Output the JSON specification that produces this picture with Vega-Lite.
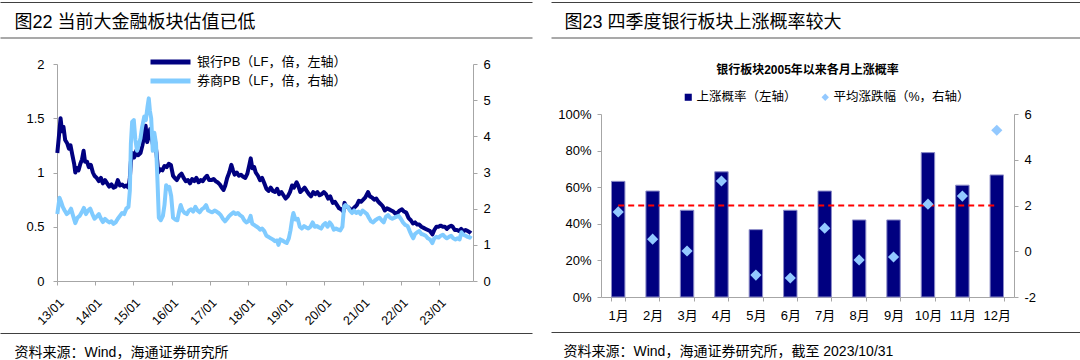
{
  "$schema": "https://vega.github.io/schema/vega-lite/v6.json",
  "padding": {"left": 14, "right": 0, "top": 2, "bottom": 0},
  "background": "white",
  "config": {
    "font": "Liberation Sans, Noto Sans CJK SC",
    "view": {"stroke": null},
    "axis": {"domainColor": "#A6A6A6", "tickColor": "#A6A6A6", "labelColor": "#000000", "labelFontSize": 13, "grid": false, "tickSize": 4, "labelFont": "Liberation Sans, Noto Sans CJK SC", "titleFont": "Liberation Sans, Noto Sans CJK SC", "titleColor": "#000000", "titleFontWeight": "normal"},
    "legend": {"labelFont": "Liberation Sans, Noto Sans CJK SC", "labelColor": "#000000", "titleFont": "Liberation Sans, Noto Sans CJK SC", "titleColor": "#000000"},
    "title": {"font": "Liberation Sans, Noto Sans CJK SC", "color": "#000000"}
  },
  "datasets": {
    "bank": [
      {"d":"2013-01-04","v":1.18},{"d":"2013-01-18","v":1.32},{"d":"2013-02-04","v":1.50},{"d":"2013-02-18","v":1.38},{"d":"2013-03-04","v":1.42},{"d":"2013-03-20","v":1.30},{"d":"2013-04-08","v":1.27},{"d":"2013-04-25","v":1.22},{"d":"2013-05-10","v":1.25},{"d":"2013-05-28","v":1.16},{"d":"2013-06-14","v":1.08},{"d":"2013-06-25","v":1.00},{"d":"2013-07-10","v":1.04},{"d":"2013-07-26","v":1.02},{"d":"2013-08-12","v":1.08},{"d":"2013-08-28","v":1.12},{"d":"2013-09-12","v":1.20},{"d":"2013-09-26","v":1.10},{"d":"2013-10-15","v":1.10},{"d":"2013-11-01","v":1.05},{"d":"2013-11-20","v":1.07},{"d":"2013-12-10","v":1.00},{"d":"2013-12-25","v":0.97},
      {"d":"2014-01-15","v":0.95},{"d":"2014-02-05","v":0.92},{"d":"2014-02-25","v":0.95},{"d":"2014-03-15","v":0.90},{"d":"2014-04-05","v":0.93},{"d":"2014-04-25","v":0.90},{"d":"2014-05-15","v":0.87},{"d":"2014-06-05","v":0.89},{"d":"2014-06-25","v":0.86},{"d":"2014-07-15","v":0.87},{"d":"2014-08-05","v":0.93},{"d":"2014-08-25","v":0.88},{"d":"2014-09-15","v":0.89},{"d":"2014-10-05","v":0.87},{"d":"2014-10-25","v":0.88},{"d":"2014-11-15","v":0.86},{"d":"2014-11-28","v":0.95},{"d":"2014-12-08","v":1.10},{"d":"2014-12-22","v":1.18},
      {"d":"2015-01-10","v":1.14},{"d":"2015-01-28","v":1.20},{"d":"2015-02-15","v":1.16},{"d":"2015-03-10","v":1.18},{"d":"2015-03-28","v":1.25},{"d":"2015-04-15","v":1.35},{"d":"2015-04-28","v":1.43},{"d":"2015-05-12","v":1.28},{"d":"2015-05-28","v":1.33},{"d":"2015-06-10","v":1.40},{"d":"2015-06-25","v":1.32},{"d":"2015-07-08","v":1.25},{"d":"2015-07-25","v":1.30},{"d":"2015-08-10","v":1.18},{"d":"2015-08-26","v":1.00},{"d":"2015-09-15","v":1.03},{"d":"2015-10-05","v":1.02},{"d":"2015-10-25","v":1.06},{"d":"2015-11-15","v":1.05},{"d":"2015-12-05","v":1.08},{"d":"2015-12-25","v":1.07},
      {"d":"2016-01-15","v":0.97},{"d":"2016-01-30","v":0.95},{"d":"2016-02-20","v":0.93},{"d":"2016-03-15","v":0.97},{"d":"2016-04-05","v":0.99},{"d":"2016-04-25","v":0.95},{"d":"2016-05-15","v":0.92},{"d":"2016-06-05","v":0.93},{"d":"2016-06-25","v":0.90},{"d":"2016-07-15","v":0.94},{"d":"2016-08-05","v":0.92},{"d":"2016-08-25","v":0.95},{"d":"2016-09-15","v":0.91},{"d":"2016-10-05","v":0.93},{"d":"2016-10-25","v":0.92},{"d":"2016-11-15","v":0.95},{"d":"2016-12-05","v":0.97},{"d":"2016-12-25","v":0.93},
      {"d":"2017-01-15","v":0.93},{"d":"2017-02-05","v":0.94},{"d":"2017-02-25","v":0.92},{"d":"2017-03-15","v":0.91},{"d":"2017-04-05","v":0.89},{"d":"2017-04-25","v":0.86},{"d":"2017-05-12","v":0.84},{"d":"2017-05-28","v":0.88},{"d":"2017-06-15","v":0.95},{"d":"2017-07-05","v":1.00},{"d":"2017-07-25","v":1.07},{"d":"2017-08-10","v":1.02},{"d":"2017-08-25","v":0.98},{"d":"2017-09-15","v":1.00},{"d":"2017-10-05","v":0.97},{"d":"2017-10-25","v":0.98},{"d":"2017-11-15","v":0.96},{"d":"2017-12-05","v":0.95},{"d":"2017-12-25","v":0.99},
      {"d":"2018-01-15","v":1.08},{"d":"2018-01-26","v":1.13},{"d":"2018-02-10","v":1.04},{"d":"2018-02-28","v":1.05},{"d":"2018-03-15","v":1.00},{"d":"2018-04-05","v":0.97},{"d":"2018-04-25","v":0.93},{"d":"2018-05-15","v":0.95},{"d":"2018-06-05","v":0.90},{"d":"2018-06-25","v":0.85},{"d":"2018-07-15","v":0.83},{"d":"2018-08-05","v":0.86},{"d":"2018-08-25","v":0.83},{"d":"2018-09-15","v":0.82},{"d":"2018-10-05","v":0.85},{"d":"2018-10-25","v":0.80},{"d":"2018-11-15","v":0.82},{"d":"2018-12-05","v":0.79},{"d":"2018-12-25","v":0.76},
      {"d":"2019-01-15","v":0.78},{"d":"2019-02-05","v":0.82},{"d":"2019-02-25","v":0.88},{"d":"2019-03-15","v":0.86},{"d":"2019-04-10","v":0.91},{"d":"2019-04-25","v":0.88},{"d":"2019-05-15","v":0.82},{"d":"2019-06-05","v":0.84},{"d":"2019-06-25","v":0.86},{"d":"2019-07-15","v":0.83},{"d":"2019-08-05","v":0.80},{"d":"2019-08-25","v":0.78},{"d":"2019-09-15","v":0.82},{"d":"2019-10-05","v":0.80},{"d":"2019-10-25","v":0.82},{"d":"2019-11-15","v":0.79},{"d":"2019-12-05","v":0.80},{"d":"2019-12-25","v":0.82},
      {"d":"2020-01-15","v":0.80},{"d":"2020-02-05","v":0.76},{"d":"2020-02-25","v":0.78},{"d":"2020-03-20","v":0.72},{"d":"2020-04-10","v":0.73},{"d":"2020-04-30","v":0.70},{"d":"2020-05-20","v":0.67},{"d":"2020-06-10","v":0.66},{"d":"2020-06-30","v":0.64},{"d":"2020-07-10","v":0.72},{"d":"2020-07-25","v":0.69},{"d":"2020-08-15","v":0.68},{"d":"2020-09-05","v":0.66},{"d":"2020-09-25","v":0.66},{"d":"2020-10-15","v":0.68},{"d":"2020-11-05","v":0.70},{"d":"2020-11-25","v":0.74},{"d":"2020-12-15","v":0.73},
      {"d":"2021-01-05","v":0.75},{"d":"2021-01-25","v":0.77},{"d":"2021-02-20","v":0.82},{"d":"2021-03-10","v":0.78},{"d":"2021-03-30","v":0.77},{"d":"2021-04-20","v":0.75},{"d":"2021-05-10","v":0.76},{"d":"2021-05-30","v":0.73},{"d":"2021-06-20","v":0.71},{"d":"2021-07-10","v":0.69},{"d":"2021-07-30","v":0.65},{"d":"2021-08-20","v":0.67},{"d":"2021-09-10","v":0.66},{"d":"2021-09-30","v":0.65},{"d":"2021-10-20","v":0.64},{"d":"2021-11-10","v":0.62},{"d":"2021-11-30","v":0.63},{"d":"2021-12-20","v":0.65},
      {"d":"2022-01-10","v":0.66},{"d":"2022-01-30","v":0.64},{"d":"2022-02-20","v":0.63},{"d":"2022-03-15","v":0.58},{"d":"2022-04-05","v":0.56},{"d":"2022-04-25","v":0.53},{"d":"2022-05-15","v":0.54},{"d":"2022-06-05","v":0.52},{"d":"2022-06-25","v":0.52},{"d":"2022-07-15","v":0.50},{"d":"2022-08-05","v":0.49},{"d":"2022-08-25","v":0.48},{"d":"2022-09-15","v":0.47},{"d":"2022-10-05","v":0.46},{"d":"2022-10-28","v":0.43},{"d":"2022-11-15","v":0.47},{"d":"2022-12-05","v":0.50},{"d":"2022-12-25","v":0.50},
      {"d":"2023-01-15","v":0.51},{"d":"2023-02-05","v":0.50},{"d":"2023-02-25","v":0.50},{"d":"2023-03-15","v":0.48},{"d":"2023-04-05","v":0.50},{"d":"2023-04-25","v":0.51},{"d":"2023-05-10","v":0.50},{"d":"2023-05-30","v":0.47},{"d":"2023-06-20","v":0.47},{"d":"2023-07-10","v":0.46},{"d":"2023-07-30","v":0.48},{"d":"2023-08-20","v":0.46},{"d":"2023-09-10","v":0.47},{"d":"2023-09-30","v":0.46},{"d":"2023-10-20","v":0.45},{"d":"2023-10-31","v":0.44}
    ],
    "sec": [
      {"d":"2013-01-04","v":1.85},{"d":"2013-01-25","v":2.30},{"d":"2013-02-08","v":2.20},{"d":"2013-02-25","v":2.05},{"d":"2013-03-15","v":1.95},{"d":"2013-04-05","v":1.85},{"d":"2013-04-25","v":1.90},{"d":"2013-05-15","v":2.00},{"d":"2013-05-30","v":1.85},{"d":"2013-06-25","v":1.60},{"d":"2013-07-15","v":1.75},{"d":"2013-08-05","v":1.80},{"d":"2013-08-25","v":1.90},{"d":"2013-09-15","v":2.02},{"d":"2013-10-05","v":1.85},{"d":"2013-10-25","v":1.95},{"d":"2013-11-15","v":2.00},{"d":"2013-12-05","v":1.85},{"d":"2013-12-25","v":1.72},
      {"d":"2014-01-15","v":1.78},{"d":"2014-02-05","v":1.85},{"d":"2014-02-25","v":1.72},{"d":"2014-03-15","v":1.63},{"d":"2014-04-05","v":1.72},{"d":"2014-04-25","v":1.66},{"d":"2014-05-15","v":1.62},{"d":"2014-06-05","v":1.65},{"d":"2014-06-25","v":1.58},{"d":"2014-07-15","v":1.62},{"d":"2014-08-05","v":1.72},{"d":"2014-08-25","v":1.80},{"d":"2014-09-15","v":1.88},{"d":"2014-10-05","v":1.85},{"d":"2014-10-25","v":2.00},{"d":"2014-11-15","v":2.05},{"d":"2014-11-28","v":2.50},{"d":"2014-12-08","v":3.80},{"d":"2014-12-20","v":4.40},
      {"d":"2015-01-05","v":4.45},{"d":"2015-01-20","v":3.90},{"d":"2015-02-05","v":3.60},{"d":"2015-02-20","v":3.75},{"d":"2015-03-10","v":3.95},{"d":"2015-03-25","v":4.25},{"d":"2015-04-15","v":4.55},{"d":"2015-04-30","v":4.45},{"d":"2015-05-15","v":4.80},{"d":"2015-05-28","v":5.05},{"d":"2015-06-08","v":4.70},{"d":"2015-06-20","v":4.50},{"d":"2015-07-05","v":3.60},{"d":"2015-07-20","v":4.10},{"d":"2015-08-05","v":3.80},{"d":"2015-08-20","v":2.70},{"d":"2015-09-01","v":1.75},{"d":"2015-09-20","v":1.68},{"d":"2015-10-10","v":1.80},{"d":"2015-10-25","v":2.10},{"d":"2015-11-10","v":2.65},{"d":"2015-11-25","v":2.55},{"d":"2015-12-10","v":2.60},{"d":"2015-12-28","v":2.35},
      {"d":"2016-01-15","v":1.75},{"d":"2016-02-05","v":1.70},{"d":"2016-02-25","v":1.68},{"d":"2016-03-15","v":1.95},{"d":"2016-03-28","v":2.10},{"d":"2016-04-15","v":1.95},{"d":"2016-05-05","v":1.88},{"d":"2016-05-25","v":1.85},{"d":"2016-06-15","v":1.95},{"d":"2016-07-05","v":1.98},{"d":"2016-07-25","v":1.92},{"d":"2016-08-15","v":2.05},{"d":"2016-09-05","v":1.95},{"d":"2016-09-25","v":1.90},{"d":"2016-10-15","v":1.98},{"d":"2016-11-05","v":2.02},{"d":"2016-11-25","v":2.10},{"d":"2016-12-15","v":1.95},
      {"d":"2017-01-05","v":1.92},{"d":"2017-01-25","v":1.90},{"d":"2017-02-15","v":1.95},{"d":"2017-03-05","v":1.92},{"d":"2017-03-25","v":1.88},{"d":"2017-04-15","v":1.82},{"d":"2017-05-05","v":1.72},{"d":"2017-05-25","v":1.65},{"d":"2017-06-15","v":1.72},{"d":"2017-07-05","v":1.80},{"d":"2017-07-25","v":1.85},{"d":"2017-08-15","v":1.90},{"d":"2017-09-05","v":1.85},{"d":"2017-09-25","v":1.88},{"d":"2017-10-15","v":1.82},{"d":"2017-11-05","v":1.78},{"d":"2017-11-25","v":1.68},{"d":"2017-12-15","v":1.62},
      {"d":"2018-01-05","v":1.65},{"d":"2018-01-25","v":1.80},{"d":"2018-02-10","v":1.58},{"d":"2018-02-28","v":1.55},{"d":"2018-03-15","v":1.52},{"d":"2018-04-05","v":1.48},{"d":"2018-04-25","v":1.42},{"d":"2018-05-15","v":1.45},{"d":"2018-06-05","v":1.38},{"d":"2018-06-25","v":1.25},{"d":"2018-07-15","v":1.22},{"d":"2018-08-05","v":1.18},{"d":"2018-08-25","v":1.15},{"d":"2018-09-15","v":1.10},{"d":"2018-10-05","v":1.12},{"d":"2018-10-18","v":1.00},{"d":"2018-11-05","v":1.15},{"d":"2018-11-25","v":1.12},{"d":"2018-12-15","v":1.08},
      {"d":"2019-01-05","v":1.05},{"d":"2019-01-25","v":1.18},{"d":"2019-02-10","v":1.40},{"d":"2019-02-28","v":1.75},{"d":"2019-03-10","v":1.88},{"d":"2019-03-30","v":1.70},{"d":"2019-04-20","v":1.72},{"d":"2019-05-10","v":1.50},{"d":"2019-05-30","v":1.45},{"d":"2019-06-20","v":1.52},{"d":"2019-07-10","v":1.48},{"d":"2019-07-30","v":1.45},{"d":"2019-08-20","v":1.50},{"d":"2019-09-10","v":1.62},{"d":"2019-09-30","v":1.50},{"d":"2019-10-20","v":1.52},{"d":"2019-11-10","v":1.48},{"d":"2019-11-30","v":1.45},{"d":"2019-12-20","v":1.55},
      {"d":"2020-01-10","v":1.60},{"d":"2020-01-30","v":1.50},{"d":"2020-02-20","v":1.62},{"d":"2020-03-10","v":1.55},{"d":"2020-03-30","v":1.42},{"d":"2020-04-20","v":1.45},{"d":"2020-05-10","v":1.42},{"d":"2020-05-30","v":1.40},{"d":"2020-06-20","v":1.50},{"d":"2020-07-06","v":2.05},{"d":"2020-07-20","v":2.10},{"d":"2020-08-10","v":2.05},{"d":"2020-08-30","v":1.95},{"d":"2020-09-20","v":1.88},{"d":"2020-10-10","v":1.95},{"d":"2020-10-30","v":1.88},{"d":"2020-11-20","v":1.92},{"d":"2020-12-10","v":1.85},{"d":"2020-12-30","v":1.95},
      {"d":"2021-01-20","v":1.90},{"d":"2021-02-10","v":1.85},{"d":"2021-02-28","v":1.75},{"d":"2021-03-20","v":1.65},{"d":"2021-04-10","v":1.62},{"d":"2021-04-30","v":1.68},{"d":"2021-05-20","v":1.72},{"d":"2021-06-10","v":1.75},{"d":"2021-06-30","v":1.68},{"d":"2021-07-20","v":1.62},{"d":"2021-08-10","v":1.78},{"d":"2021-08-30","v":1.82},{"d":"2021-09-20","v":1.75},{"d":"2021-10-10","v":1.72},{"d":"2021-10-30","v":1.75},{"d":"2021-11-20","v":1.78},{"d":"2021-12-10","v":1.80},{"d":"2021-12-30","v":1.72},
      {"d":"2022-01-20","v":1.62},{"d":"2022-02-10","v":1.55},{"d":"2022-03-05","v":1.52},{"d":"2022-03-25","v":1.38},{"d":"2022-04-15","v":1.25},{"d":"2022-04-28","v":1.18},{"d":"2022-05-15","v":1.30},{"d":"2022-06-05","v":1.35},{"d":"2022-06-25","v":1.38},{"d":"2022-07-15","v":1.30},{"d":"2022-08-05","v":1.28},{"d":"2022-08-25","v":1.25},{"d":"2022-09-15","v":1.18},{"d":"2022-10-05","v":1.15},{"d":"2022-10-28","v":1.05},{"d":"2022-11-15","v":1.18},{"d":"2022-12-05","v":1.22},{"d":"2022-12-25","v":1.20},
      {"d":"2023-01-15","v":1.25},{"d":"2023-02-05","v":1.28},{"d":"2023-02-25","v":1.22},{"d":"2023-03-15","v":1.18},{"d":"2023-04-05","v":1.22},{"d":"2023-04-25","v":1.25},{"d":"2023-05-15","v":1.18},{"d":"2023-06-05","v":1.15},{"d":"2023-06-25","v":1.18},{"d":"2023-07-15","v":1.15},{"d":"2023-08-01","v":1.35},{"d":"2023-08-20","v":1.28},{"d":"2023-09-10","v":1.25},{"d":"2023-09-30","v":1.22},{"d":"2023-10-20","v":1.20},{"d":"2023-10-31","v":1.25}
    ],
    "months": [
      {"m":"1月","p":0.632,"r":1.72},{"m":"2月","p":0.579,"r":0.53},{"m":"3月","p":0.474,"r":0.01},{"m":"4月","p":0.684,"r":3.07},{"m":"5月","p":0.368,"r":-1.04},{"m":"6月","p":0.474,"r":-1.17},{"m":"7月","p":0.579,"r":1.01},{"m":"8月","p":0.421,"r":-0.38},{"m":"9月","p":0.421,"r":-0.25},{"m":"10月","p":0.789,"r":2.06},{"m":"11月","p":0.611,"r":2.41},{"m":"12月","p":0.667,"r":5.29}
    ]
  },
  "resolve": {"scale": {"color": "independent", "fill": "independent"}, "legend": {"color": "independent", "fill": "independent"}},
  "hconcat": [
    {
      "spacing": 6,
      "resolve": {"scale": {"color": "independent"}, "legend": {"color": "independent"}},
      "vconcat": [
        {
          "width": 416, "height": 44,
          "data": {"values": []},
          "layer": [
            {"mark": "point", "encoding": {
              "x": {"field": "p", "type": "quantitative", "scale": {"domain": [0, 1], "range": [-57, 475]}, "axis": {"orient": "top", "domainColor": "#404040", "domainWidth": 1, "ticks": false, "labels": false, "grid": false,
                "title": "图22 当前大金融板块估值已低", "titleX": -43, "titleY": 25.5, "titleAlign": "left", "titleBaseline": "alphabetic", "titleFontSize": 18}},
              "y": {"field": "q", "type": "quantitative", "scale": {"domain": [0, 1]}, "axis": null}}},
            {"mark": "point", "encoding": {
              "x": {"field": "p", "type": "quantitative", "axis": {"orient": "bottom", "offset": -8.5, "domainColor": "#8C8C8C", "domainWidth": 1.5, "ticks": false, "labels": false, "grid": false, "title": null}},
              "y": {"field": "q", "type": "quantitative", "axis": null}}}
          ],
          "resolve": {"axis": {"x": "independent"}}
        },
        {
          "width": 416, "height": 217,
          "layer": [
            {
              "data": {"name": "bank"},
              "mark": {"type": "line", "strokeWidth": 4, "strokeJoin": "round"},
              "encoding": {
                "x": {"field": "d", "type": "temporal", "scale": {"domain": [{"year": 2013, "month": 1, "date": 1}, {"year": 2023, "month": 11, "date": 20}], "nice": false},
                  "axis": {"title": null, "format": "%y/%m", "labelAngle": -45, "labelFontSize": 12.5, "labelPadding": 11,
                    "values": [{"year": 2013, "month": 1, "date": 1}, {"year": 2014, "month": 1, "date": 1}, {"year": 2015, "month": 1, "date": 1}, {"year": 2016, "month": 1, "date": 1}, {"year": 2017, "month": 1, "date": 1}, {"year": 2018, "month": 1, "date": 1}, {"year": 2019, "month": 1, "date": 1}, {"year": 2020, "month": 1, "date": 1}, {"year": 2021, "month": 1, "date": 1}, {"year": 2022, "month": 1, "date": 1}, {"year": 2023, "month": 1, "date": 1}]}},
                "y": {"field": "v", "type": "quantitative", "scale": {"domain": [0, 2], "nice": false}, "axis": {"title": null, "values": [0, 0.5, 1, 1.5, 2], "labelPadding": 9, "labelExpr": "'' + datum.value"}},
                "color": {"datum": "银行PB（LF，倍，左轴）", "scale": {"domain": ["银行PB（LF，倍，左轴）", "券商PB（LF，倍，右轴）"], "range": ["#000080", "#80CBFF"]},
                  "legend": {"title": null, "orient": "none", "legendX": 91, "legendY": -11.5, "direction": "vertical", "symbolType": "stroke", "symbolSize": 1600, "symbolStrokeWidth": 5, "clipHeight": 19, "labelFontSize": 13, "labelLimit": 300, "labelOffset": 4, "padding": 0, "rowPadding": 0}}
              }
            },
            {
              "data": {"name": "sec"},
              "mark": {"type": "line", "strokeWidth": 4, "strokeJoin": "round"},
              "encoding": {
                "x": {"field": "d", "type": "temporal"},
                "y": {"field": "v", "type": "quantitative", "scale": {"domain": [0, 6], "nice": false}, "axis": {"title": null, "orient": "right", "values": [0, 1, 2, 3, 4, 5, 6], "labelPadding": 6}},
                "color": {"datum": "券商PB（LF，倍，右轴）"}
              }
            }
          ],
          "resolve": {"scale": {"y": "independent"}}
        },
        {
          "width": 416, "height": 24,
          "data": {"values": []},
          "mark": "point",
          "encoding": {"x": {"field": "p", "type": "quantitative", "scale": {"domain": [0, 1], "range": [-57, 475]}, "axis": {"orient": "top", "domainColor": "#404040", "domainWidth": 1, "ticks": false, "labels": false, "grid": false,
            "title": "资料来源：Wind，海通证券研究所", "titleX": -43, "titleY": 23, "titleAlign": "left", "titleBaseline": "alphabetic", "titleFontSize": 14}}}
        }
      ]
    },
    {
      "spacing": 10,
      "resolve": {"scale": {"color": "independent", "fill": "independent"}, "legend": {"color": "independent", "fill": "independent"}},
      "vconcat": [
        {
          "width": 413, "height": 51.5,
          "data": {"values": []},
          "layer": [
            {"mark": "point", "encoding": {
              "x": {"field": "p", "type": "quantitative", "scale": {"domain": [0, 1], "range": [-50, 480]}, "axis": {"orient": "top", "domainColor": "#404040", "domainWidth": 1, "ticks": false, "labels": false, "grid": false,
                "title": "图23 四季度银行板块上涨概率较大", "titleX": -37, "titleY": 25.5, "titleAlign": "left", "titleBaseline": "alphabetic", "titleFontSize": 18}},
              "y": {"field": "q", "type": "quantitative", "scale": {"domain": [0, 1]}, "axis": null}}},
            {"mark": "point", "encoding": {
              "x": {"field": "p", "type": "quantitative", "axis": {"orient": "bottom", "offset": -16, "domainColor": "#8C8C8C", "domainWidth": 1.5, "ticks": false, "labels": false, "grid": false, "title": null}},
              "y": {"field": "q", "type": "quantitative", "axis": null}}}
          ],
          "resolve": {"axis": {"x": "independent"}}
        },
        {
          "width": 413, "height": 183,
          "title": {"text": "银行板块2005年以来各月上涨概率", "anchor": "middle", "fontSize": 12, "fontWeight": "bold", "offset": 14},
          "data": {"name": "months"},
          "layer": [
            {
              "mark": {"type": "bar", "stroke": "#8C8CC8", "strokeWidth": 1},
              "encoding": {
                "x": {"field": "m", "type": "nominal", "sort": null, "scale": {"paddingInner": 0.61, "paddingOuter": 0.305},
                  "axis": {"title": null, "labelAngle": 0, "tickBand": "extent", "labelPadding": 8, "labelFontSize": 13}},
                "y": {"field": "p", "type": "quantitative", "scale": {"domain": [0, 1], "nice": false}, "axis": {"title": null, "format": ".0%", "values": [0, 0.2, 0.4, 0.6, 0.8, 1], "labelPadding": 6}},
                "color": {"datum": "上涨概率（左轴）", "scale": {"domain": ["上涨概率（左轴）"], "range": ["#000080"]},
                  "legend": {"title": null, "orient": "none", "legendX": 81, "legendY": -23, "direction": "horizontal", "symbolType": "square", "symbolSize": 50, "symbolStrokeWidth": 0, "labelFontSize": 12.5, "labelLimit": 300, "labelOffset": 2, "padding": 0}}
              }
            },
            {
              "mark": {"type": "line", "color": "#FF0000", "strokeDash": [6, 4], "strokeWidth": 2},
              "encoding": {
                "x": {"field": "m", "type": "nominal", "sort": null},
                "y": {"datum": 0.5, "type": "quantitative", "scale": {"domain": [0, 1], "nice": false}, "axis": null}
              }
            },
            {
              "mark": {"type": "point", "shape": "diamond", "filled": true, "size": 125, "opacity": 1, "strokeWidth": 0},
              "encoding": {
                "x": {"field": "m", "type": "nominal", "sort": null},
                "y": {"field": "r", "type": "quantitative", "scale": {"domain": [-2, 6], "nice": false}, "axis": {"title": null, "orient": "right", "values": [-2, 0, 2, 4, 6], "labelPadding": 6, "labelExpr": "'' + datum.value"}},
                "fill": {"datum": "平均涨跌幅（%，右轴）", "scale": {"domain": ["平均涨跌幅（%，右轴）"], "range": ["#93C9FF"]},
                  "legend": {"title": null, "orient": "none", "legendX": 218, "legendY": -23, "direction": "horizontal", "symbolType": "diamond", "symbolSize": 55, "symbolStrokeWidth": 0, "labelFontSize": 12.5, "labelLimit": 300, "labelOffset": 2, "padding": 0}}
              }
            }
          ],
          "resolve": {"scale": {"y": "independent"}}
        },
        {
          "width": 413, "height": 24,
          "data": {"values": []},
          "mark": "point",
          "encoding": {"x": {"field": "p", "type": "quantitative", "scale": {"domain": [0, 1], "range": [-50, 480]}, "axis": {"orient": "top", "domainColor": "#404040", "domainWidth": 1, "ticks": false, "labels": false, "grid": false,
            "title": "资料来源：Wind，海通证券研究所，截至 2023/10/31", "titleX": -38, "titleY": 23, "titleAlign": "left", "titleBaseline": "alphabetic", "titleFontSize": 14}}}
        }
      ]
    }
  ],
  "spacing": -32
}
